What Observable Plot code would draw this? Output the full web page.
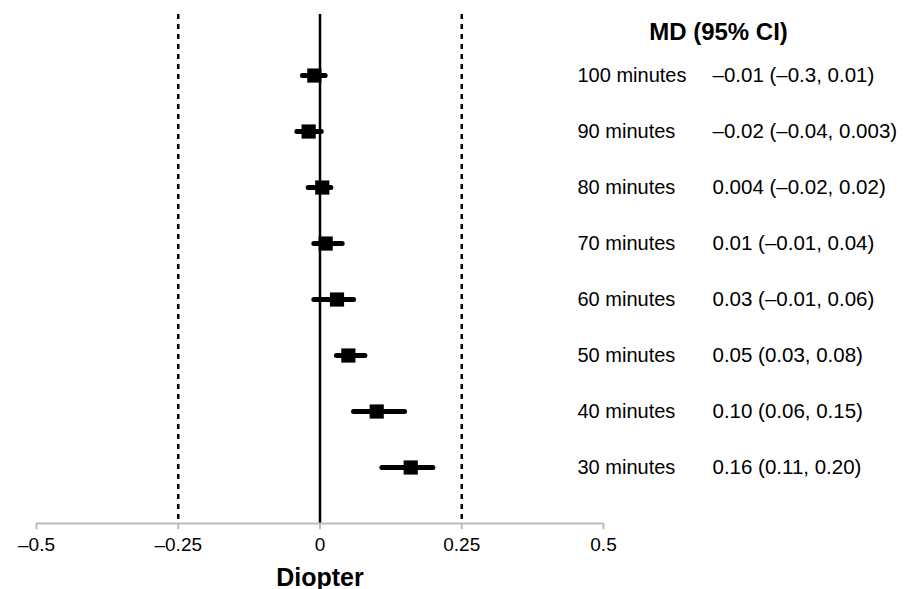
<!DOCTYPE html>
<html><head><meta charset="utf-8">
<script src="https://cdn.jsdelivr.net/npm/d3@7"></script>
<script src="https://cdn.jsdelivr.net/npm/@observablehq/plot@0.6"></script>
<style>body{margin:0;background:#fff;font-family:Arial,"Liberation Sans",sans-serif}</style>
</head><body><div id="c"></div>
<script>
const labels = ["100 minutes","90 minutes","80 minutes","70 minutes","60 minutes","50 minutes","40 minutes","30 minutes"];
const md = [-0.01,-0.02,0.004,0.01,0.03,0.05,0.10,0.16];
const lo = [-0.03,-0.04,-0.02,-0.01,-0.01,0.03,0.06,0.11];
const hi = [0.01,0.003,0.02,0.04,0.06,0.08,0.15,0.20];
const ciText = ["–0.01 (–0.3, 0.01)","–0.02 (–0.04, 0.003)","0.004 (–0.02, 0.02)","0.01 (–0.01, 0.04)","0.03 (–0.01, 0.06)","0.05 (0.03, 0.08)","0.10 (0.06, 0.15)","0.16 (0.11, 0.20)"];
const ticks = [-0.5,-0.25,0,0.25,0.5];
const tickLabels = ["–0.5","–0.25","0","0.25","0.5"];
const data = labels.map((l,i)=>({l,i,md:md[i],lo:lo[i],hi:hi[i],t:ciText[i]}));
const yTop=-1.09, yBot=8;
const chart = Plot.plot({
  width:910, height:589, marginLeft:36, marginRight:307, marginTop:14, marginBottom:66,
  style:{fontFamily:"Arial, 'Liberation Sans', sans-serif", fontSize:"16px", color:"#000"},
  x:{domain:[-0.5,0.5], axis:null},
  y:{domain:[yTop,yBot], reverse:true, axis:null},
  marks:[
    Plot.ruleX([-0.25,0.25],{x:d=>d,y1:()=>yTop,y2:()=>yBot,stroke:"#000",strokeWidth:2.5,strokeDasharray:"5,5"}),
    Plot.ruleX([0],{x:d=>d,y1:()=>yTop,y2:()=>yBot,stroke:"#000",strokeWidth:2.5}),
    Plot.ruleY([yBot],{y:d=>d,x1:()=>-0.5,x2:()=>0.5,stroke:"#bbb",strokeWidth:2}),
    Plot.ruleX(ticks,{x:d=>d,y1:()=>yBot,y2:()=>yBot+0.11,stroke:"#bbb",strokeWidth:2}),
    Plot.text(ticks,{x:d=>d,y:()=>yBot,text:(d,i)=>tickLabels[i],dy:21,fontSize:19}),
    Plot.text(["Diopter"],{x:()=>0,y:()=>yBot,dy:54,fontSize:25,fontWeight:"bold"}),
    Plot.ruleY(data,{y:"i",x1:"lo",x2:"hi",stroke:"#000",strokeWidth:5,strokeLinecap:"round"}),
    Plot.dot(data,{x:"md",y:"i",symbol:"square",r:8,fill:"#000"}),
    Plot.text(data,{x:()=>0.5,y:"i",text:"l",dx:-26,textAnchor:"start",fontSize:20}),
    Plot.text(data,{x:()=>0.5,y:"i",text:"t",dx:109,textAnchor:"start",fontSize:20.5}),
    Plot.text(["MD (95% CI)"],{x:()=>0.5,y:()=>yTop,dy:18,dx:115,textAnchor:"middle",fontSize:24,fontWeight:"bold"})
  ]
});
document.getElementById("c").append(chart);
</script></body></html>
